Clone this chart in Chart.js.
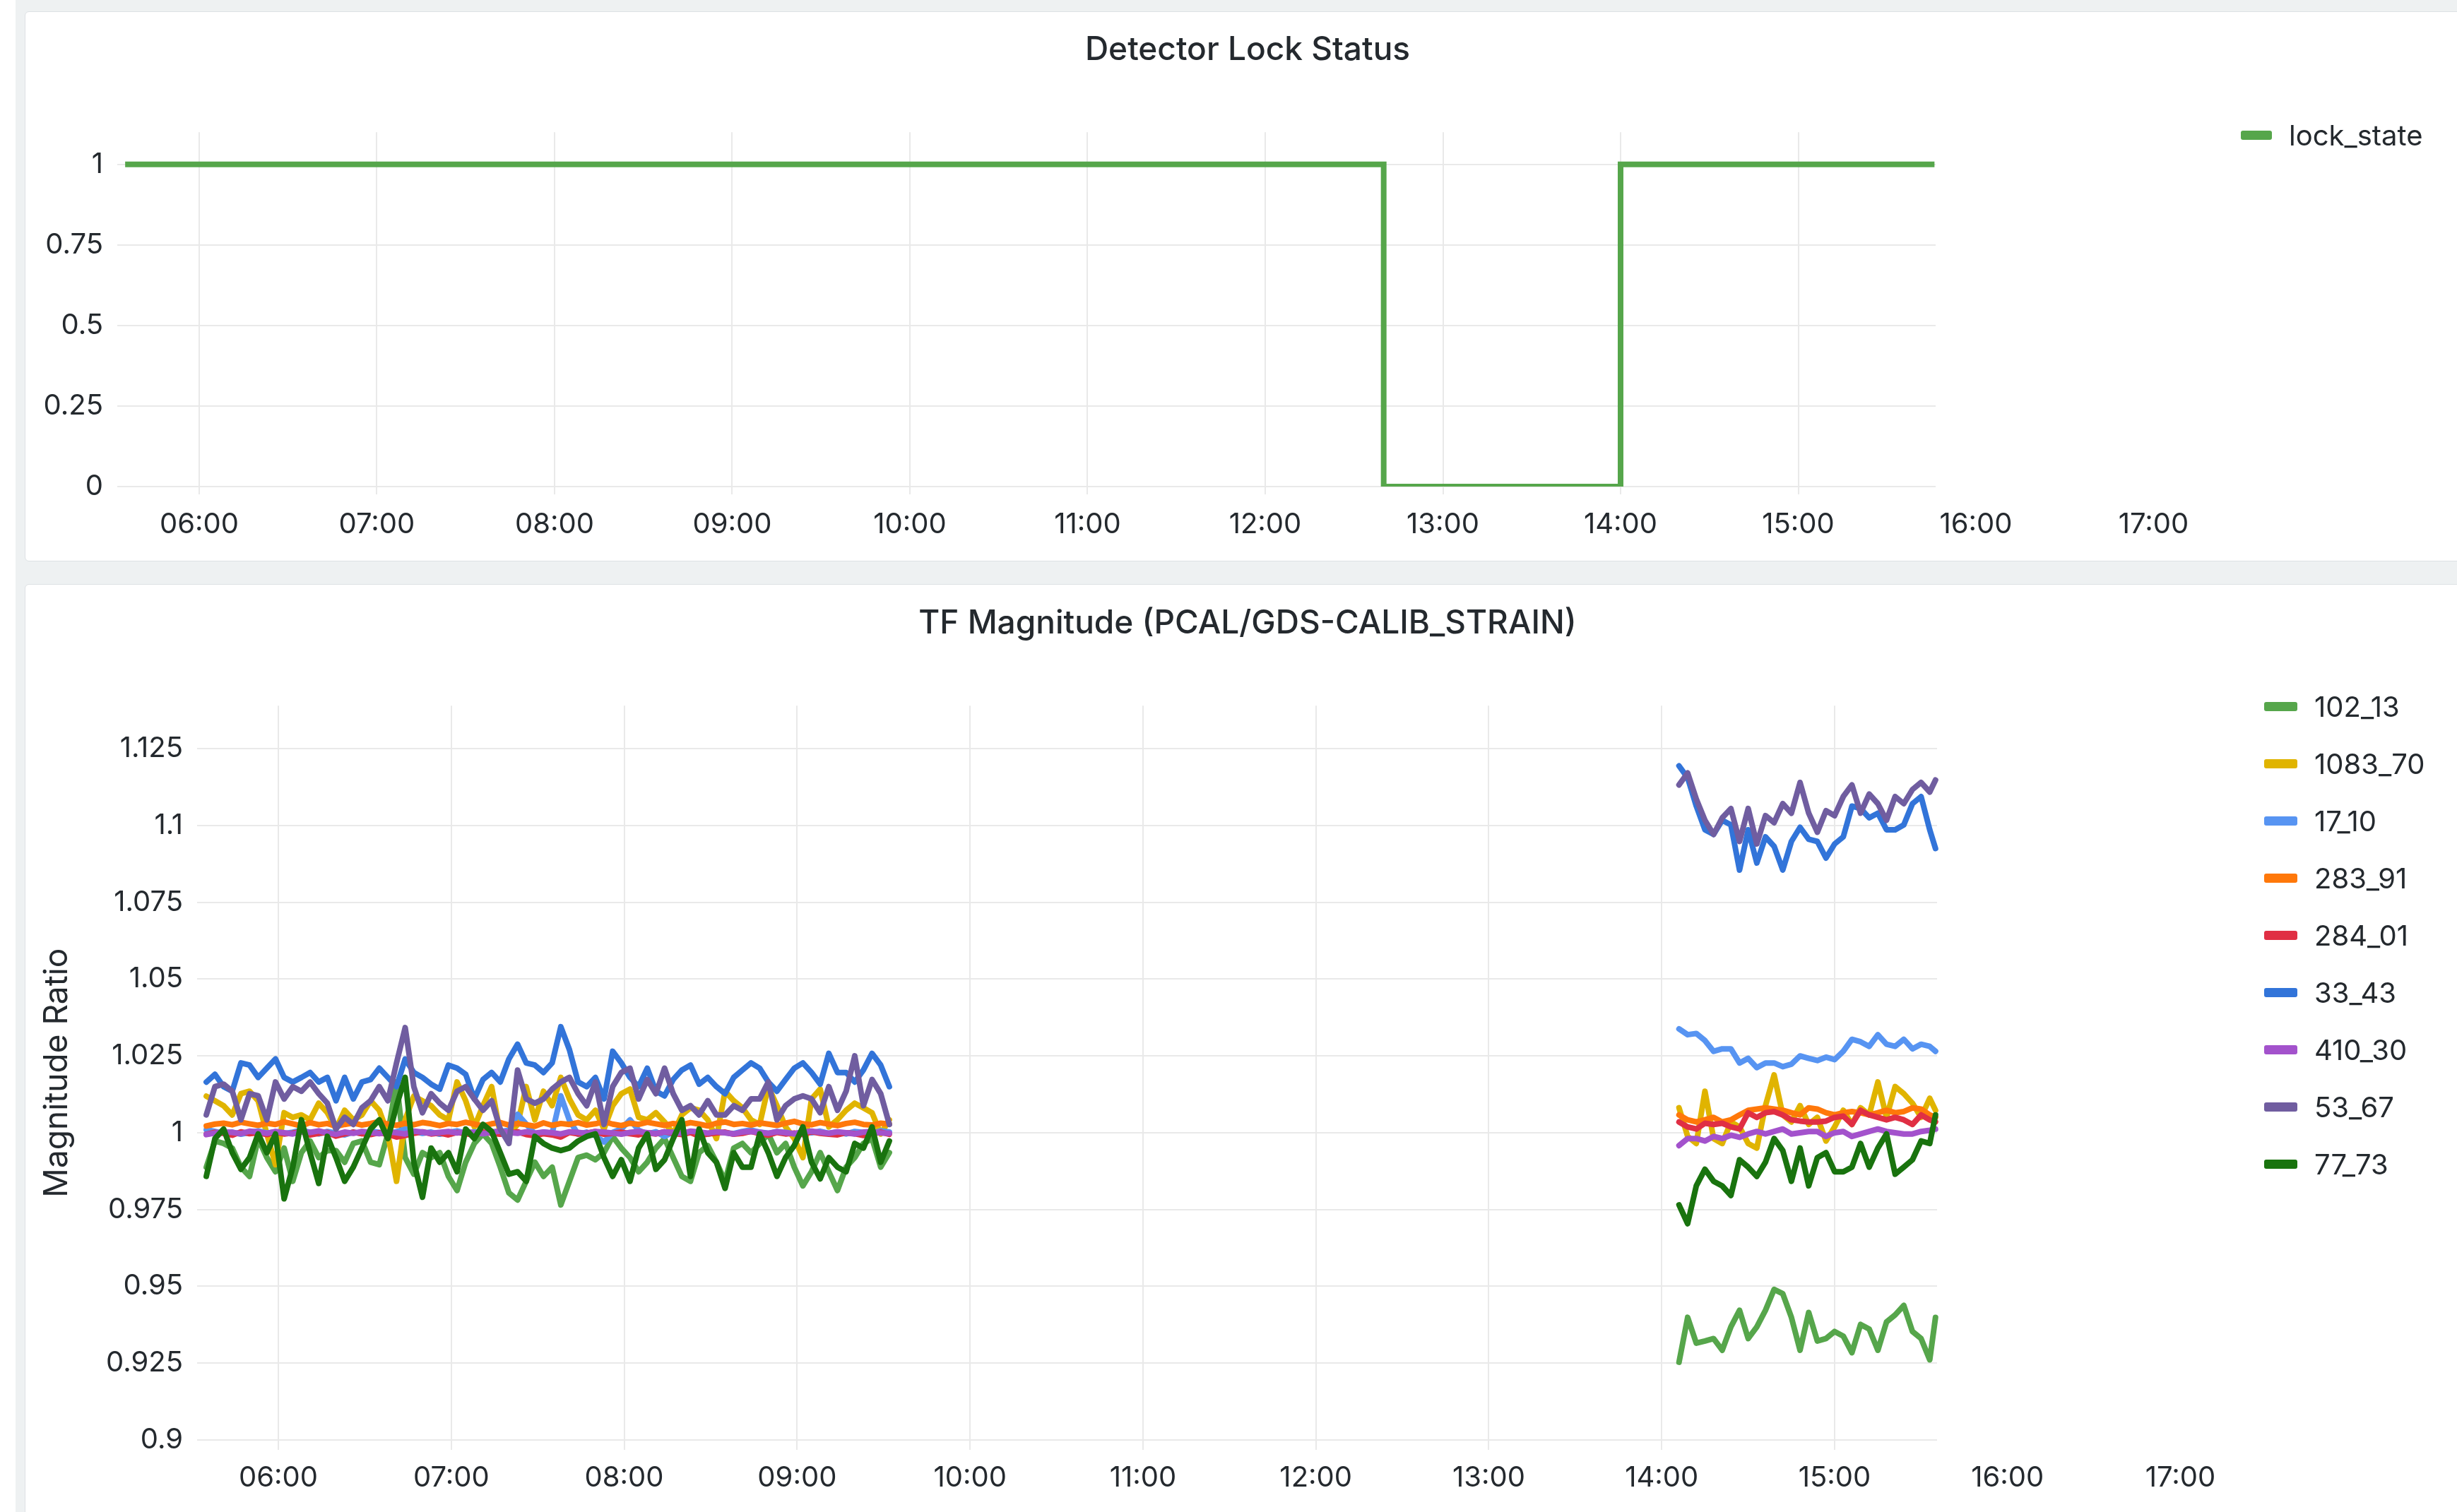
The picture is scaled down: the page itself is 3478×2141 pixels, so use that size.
<!DOCTYPE html>
<html lang="en">
<head>
<meta charset="utf-8">
<title>Detector Lock Status / TF Magnitude</title>
<script src="https://cdn.jsdelivr.net/npm/chart.js@4.4.1/dist/chart.umd.min.js"></script>
<style>
  html, body { margin: 0; padding: 0; background: #fff; overflow: hidden; }
  body { width: 3478px; height: 2141px; position: relative; font-family: Inter, "Noto Sans", sans-serif; }
  #hintergrund { position: absolute; left: 22px; top: 0; width: 3456px; height: 2141px; background: #eef1f2; }
  .panel { position: absolute; left: 35px; width: 3470px; background: #fff; border: 1px solid #dde1e4;
           border-radius: 6px; box-sizing: border-box; }
  #panelOben  { top: 16px;  height: 779px; }
  #panelUnten { top: 827px; height: 1340px; }
  canvas { position: absolute; }
  #lockChart { left: 36px; top: 17px; }
  #tfChart   { left: 36px; top: 828px; }
  .eintrag { position: absolute; display: flex; align-items: center; height: 48px;
             font-size: 40px; color: #24292e; white-space: nowrap; }
  .swatch { height: 13px; border-radius: 3px; margin-right: 24px; }
</style>
</head>
<body>
<div id="hintergrund"></div>
<div class="panel" id="panelOben"></div>
<div class="panel" id="panelUnten"></div>
<canvas id="lockChart" width="3460" height="776"></canvas>
<canvas id="tfChart" width="3460" height="1313"></canvas>
<div id="legendeOben"></div>
<div id="legendeUnten"></div>

<script>
'use strict';

// ------------------------------------------------------------------
// Daten
// ------------------------------------------------------------------

// Lock-Status (Stufenlinie)
const ZEITEN_LOCK = ['05:35', '12:40', '14:00', '15:46'];
const WERTE_LOCK  = [1, 0, 1, 1];

// Zeitpunkte der TF-Messungen: Block 1 (05:35–09:32), Block 2 (14:06–15:35)
const ZEITEN_TF = [
  '05:35','05:38','05:41','05:44','05:47','05:50','05:53','05:56','05:59','06:02',
  '06:05','06:08','06:11','06:14','06:17','06:20','06:23','06:26','06:29','06:32',
  '06:35','06:38','06:41','06:44','06:47','06:50','06:53','06:56','06:59','07:02',
  '07:05','07:08','07:11','07:14','07:17','07:20','07:23','07:26','07:29','07:32',
  '07:35','07:38','07:41','07:44','07:47','07:50','07:53','07:56','07:59','08:02',
  '08:05','08:08','08:11','08:14','08:17','08:20','08:23','08:26','08:29','08:32',
  '08:35','08:38','08:41','08:44','08:47','08:50','08:53','08:56','08:59','09:02',
  '09:05','09:08','09:11','09:14','09:17','09:20','09:23','09:26','09:29','09:32',
  '14:06','14:09','14:12','14:15','14:18','14:21','14:24','14:27','14:30','14:33',
  '14:36','14:39','14:42','14:45','14:48','14:51','14:54','14:57','15:00','15:03',
  '15:06','15:09','15:12','15:15','15:18','15:21','15:24','15:27','15:30','15:33','15:35'
];

const TF_NAMEN  = ['102_13', '1083_70', '17_10', '283_91', '284_01', '33_43', '410_30', '53_67', '77_73'];
const TF_FARBEN = ['#56A64B', '#E0B400', '#5794F2', '#FF780A', '#E02F44', '#3274D9', '#A352CC', '#705DA0', '#19730E'];

const w102_13 = [
  0.9888,0.9973,0.9965,0.995,0.9888,0.9858,0.9981,0.9919,0.9873,0.995,
  0.9842,0.9935,0.9973,0.9919,0.9942,0.9942,0.9904,0.9965,0.9973,0.9904,
  0.9896,0.9996,1.0165,0.9919,0.9865,0.9935,0.9919,0.9935,0.9858,0.9812,
  0.9904,0.9965,0.9996,0.9965,0.9888,0.9804,0.9781,0.9842,0.9904,0.9858,
  0.9888,0.9765,0.9842,0.9919,0.9927,0.9912,0.9935,0.9988,0.995,0.9919,
  0.9873,0.9904,0.995,0.9981,0.9919,0.9858,0.9842,0.9935,0.9958,0.9904,
  0.9842,0.995,0.9965,0.9935,0.9965,0.9996,0.9935,0.9965,0.9888,0.9827,
  0.9873,0.9935,0.9873,0.9812,0.9888,0.9919,0.9965,0.9981,0.9888,0.9935,
  0.9253,0.9399,0.9315,0.9322,0.933,0.9292,0.9368,0.9422,0.933,0.9368,
  0.9422,0.949,0.9476,0.9399,0.9292,0.9415,0.9322,0.933,0.9353,0.9338,
  0.9284,0.9376,0.9361,0.9292,0.9384,0.9407,0.9438,0.9353,0.933,0.9261,0.9399
];
const w1083_70 = [
  1.0119,1.0104,1.0088,1.0058,1.0127,1.0135,1.0104,0.9996,0.9896,1.0065,
  1.005,1.0058,1.0042,1.0096,1.0065,1.0012,1.0073,1.0042,1.0058,1.0104,
  1.0073,0.9996,0.9842,1.0042,1.0119,1.0104,1.0088,1.0058,1.0042,1.0165,
  1.0104,1.0019,1.0088,1.015,0.9996,0.9996,1.0027,1.015,1.0042,1.0135,
  1.0088,1.018,1.011,1.0058,1.0042,1.0073,1.0012,1.0088,1.0127,1.0142,
  1.005,1.0042,1.0065,1.0035,0.9996,1.0058,1.0081,1.0073,1.0042,0.9981,
  1.0135,1.0104,1.0081,1.0042,1.0027,1.015,1.0088,1.0019,0.9981,0.9919,
  1.011,1.0142,1.0019,1.0042,1.0073,1.0096,1.0081,1.0065,0.9996,1.0042,
  1.0081,0.9988,0.9965,1.0135,0.9981,0.9965,1.0035,1.0019,0.9965,0.995,
  1.0088,1.0188,1.0058,1.0035,1.0088,1.0027,1.005,0.9973,1.0019,1.0073,
  1.0027,1.0081,1.0058,1.0165,1.005,1.015,1.0127,1.0096,1.005,1.0112,1.0073
];
const w17_10 = [
  1.0010,1.0004,0.9998,1.0002,0.9995,1.0001,1.0006,0.9999,1.0003,0.9997,
  1.0002,1.0008,1.0001,0.9996,1.0004,0.9999,0.9993,1.0002,0.9997,1.0005,
  1.0001,0.9996,1.0003,1.0012,1.0004,0.9998,1.0002,0.9995,1.0001,1.0006,
  0.9999,1.0003,0.9997,1.0002,1.0004,1.0008,1.0060,1.0028,0.9996,1.0002,
  0.9998,1.0120,1.0040,0.9995,1.0002,0.9990,0.9970,1.0001,1.0012,1.0042,
  1.0008,0.9996,1.0003,0.9988,1.0002,0.9997,1.0004,1.0001,0.9995,1.0003,
  1.0000,0.9997,1.0004,1.0009,1.0002,0.9998,1.0004,1.0001,0.9996,1.0003,
  1.0000,1.0005,0.9998,1.0002,0.9996,1.0004,1.0001,0.9998,1.0006,1.0002,
  1.0338,1.0319,1.0323,1.03,1.0265,1.0273,1.0273,1.0227,1.0242,1.0212,
  1.0227,1.0227,1.0215,1.0223,1.025,1.0242,1.0235,1.0246,1.0238,1.0265,
  1.0304,1.0296,1.0281,1.0319,1.0288,1.0281,1.0304,1.0273,1.0288,1.0281,1.0265
];
const w283_91 = [
  1.0022,1.0028,1.0031,1.0026,1.0034,1.0029,1.0024,1.0031,1.0027,1.0035,
  1.0029,1.0022,1.0033,1.0026,1.0030,1.0021,1.0027,1.0032,1.0025,1.0030,
  1.0036,1.0028,1.0024,1.0031,1.0026,1.0033,1.0029,1.0023,1.0030,1.0027,
  1.0034,1.0028,1.0022,1.0029,1.0033,1.0025,1.0030,1.0026,1.0021,1.0032,
  1.0024,1.0030,1.0027,1.0033,1.0025,1.0029,1.0036,1.0028,1.0023,1.0031,
  1.0027,1.0034,1.0029,1.0024,1.0030,1.0026,1.0033,1.0028,1.0022,1.0031,
  1.0035,1.0027,1.0030,1.0025,1.0032,1.0028,1.0024,1.0031,1.0037,1.0029,
  1.0026,1.0033,1.0028,1.0023,1.0030,1.0034,1.0027,1.0025,1.0031,1.0028,
  1.0058,1.0042,1.0035,1.0042,1.005,1.0035,1.0042,1.0058,1.0073,1.0077,
  1.0081,1.0077,1.0073,1.0065,1.0058,1.0081,1.0077,1.0065,1.0058,1.0065,
  1.0069,1.0065,1.0058,1.0065,1.0073,1.0065,1.0069,1.0081,1.0077,1.0058,1.005
];
const w284_01 = [
  0.9995,1.0001,0.9998,0.9992,1.0003,0.9997,1.0000,0.9994,1.0002,0.9996,
  0.9999,1.0004,0.9993,0.9998,1.0001,0.9989,0.9996,1.0002,0.9997,0.9994,
  1.0000,0.9995,0.9986,0.9991,0.9998,1.0003,0.9996,0.9999,0.9993,1.0001,
  0.9997,0.9992,1.0002,0.9998,0.9995,0.9999,1.0003,0.9994,0.9990,0.9997,
  0.9993,0.9986,1.0001,0.9996,0.9999,1.0004,0.9995,0.9998,1.0002,0.9997,
  0.9993,1.0000,0.9996,1.0003,0.9998,0.9994,1.0001,0.9989,0.9996,0.9999,
  1.0002,0.9995,0.9998,1.0004,0.9997,0.9992,1.0001,0.9996,0.9999,0.9994,
  1.0003,0.9998,0.9995,0.9993,1.0000,0.9997,0.9991,0.9996,1.0002,0.9995,
  1.0035,1.0019,1.0012,1.0031,1.0027,1.0031,1.0019,1.0012,1.0065,1.005,
  1.0065,1.0069,1.0058,1.0042,1.0038,1.0035,1.0035,1.0038,1.005,1.0054,
  1.0027,1.0073,1.0058,1.005,1.0042,1.005,1.0042,1.0027,1.0058,1.0042,1.0035
];
const w33_43 = [
  1.0165,1.019,1.015,1.0135,1.0227,1.022,1.018,1.021,1.024,1.018,
  1.0165,1.018,1.0196,1.0165,1.018,1.0104,1.018,1.011,1.0165,1.0173,
  1.021,1.018,1.015,1.024,1.0196,1.018,1.0158,1.0142,1.022,1.021,
  1.019,1.011,1.0173,1.0196,1.0165,1.024,1.0288,1.0227,1.022,1.0196,
  1.0227,1.0345,1.027,1.0165,1.015,1.018,1.011,1.0265,1.0227,1.018,
  1.015,1.021,1.0135,1.012,1.0173,1.0204,1.022,1.0158,1.018,1.015,
  1.0127,1.018,1.0204,1.0227,1.021,1.0165,1.0135,1.0173,1.021,1.0227,
  1.0196,1.0158,1.0258,1.0196,1.0196,1.0165,1.0204,1.0258,1.022,1.015,
  1.1194,1.1155,1.1063,1.0986,1.0971,1.1017,1.1002,1.0855,1.0986,1.0878,
  1.0963,1.0932,1.0855,1.0948,1.0994,1.0955,1.0948,1.0894,1.094,1.0963,
  1.1063,1.1055,1.1025,1.104,1.0986,1.0986,1.1002,1.1071,1.1094,1.0986,1.0925
];
const w410_30 = [
  0.9994,0.9999,1.0003,1.0001,0.9997,1.0005,1.0002,0.9998,1.0004,1.0000,
  0.9996,1.0003,1.0001,1.0006,0.9999,0.9995,1.0002,0.9998,1.0004,1.0001,
  0.9997,1.0003,1.0000,0.9996,1.0005,1.0002,0.9998,1.0001,1.0004,0.9999,
  1.0003,1.0000,0.9997,1.0002,1.0005,1.0001,0.9998,1.0003,0.9999,1.0002,
  1.0000,0.9996,1.0003,1.0001,0.9998,1.0004,1.0002,0.9999,0.9995,1.0001,
  1.0004,1.0000,0.9997,1.0003,1.0001,0.9998,1.0005,1.0002,0.9999,1.0003,
  1.0000,0.9996,1.0002,1.0004,1.0001,0.9998,1.0003,1.0000,0.9997,1.0002,
  1.0005,1.0001,0.9998,1.0003,1.0000,0.9996,1.0002,1.0004,0.9999,0.9998,
  0.9958,0.9981,0.9981,0.9973,0.9988,0.9981,0.9992,0.9985,0.9996,1.0004,
  0.9996,1.0004,1.0012,0.9996,1.0000,1.0004,1.0004,0.9988,1.0000,1.0004,
  0.9988,0.9996,1.0004,1.0012,1.0004,1.0000,0.9996,0.9996,1.0004,1.0008,1.0012
];
const w53_67 = [
  1.0058,1.015,1.0158,1.0135,1.0042,1.0127,1.012,1.0042,1.0165,1.011,
  1.015,1.0135,1.0165,1.0127,1.0096,1.0012,1.005,1.0027,1.0081,1.0104,
  1.015,1.0104,1.0227,1.0342,1.015,1.0065,1.0127,1.0096,1.0073,1.0135,
  1.015,1.011,1.0073,1.0104,1.0012,0.9965,1.0204,1.011,1.0096,1.011,
  1.0142,1.0165,1.018,1.0127,1.0088,1.0165,1.0027,1.015,1.0196,1.021,
  1.011,1.0173,1.0127,1.021,1.0127,1.0073,1.0088,1.0058,1.0104,1.0058,
  1.0058,1.0088,1.0073,1.011,1.011,1.0165,1.0042,1.0088,1.011,1.012,
  1.011,1.0065,1.015,1.0073,1.0135,1.025,1.0088,1.0173,1.0127,1.0027,
  1.1132,1.1171,1.1086,1.1017,1.0971,1.1025,1.1055,1.0948,1.1055,1.094,
  1.1032,1.1009,1.1071,1.104,1.114,1.104,1.0978,1.1048,1.1032,1.1094,
  1.1132,1.104,1.1102,1.1071,1.1017,1.1094,1.1071,1.1117,1.114,1.1109,1.1148
];
const w77_73 = [
  0.9858,0.9981,1.0012,0.9935,0.9881,0.9919,0.9996,0.9935,0.9996,0.9785,
  0.9888,1.0042,0.9935,0.9835,0.9988,0.9919,0.9842,0.9888,0.995,1.0012,
  1.0042,0.9981,1.0088,1.018,0.9904,0.979,0.995,0.9904,0.9935,0.9873,
  1.0012,0.9981,1.0027,1.0004,0.9935,0.9865,0.9873,0.9842,0.9988,0.9965,
  0.995,0.9942,0.995,0.9973,0.9988,0.9996,0.9919,0.9858,0.9912,0.9842,
  0.995,0.9996,0.9881,0.9912,0.9981,1.0042,0.9858,1.0012,0.9935,0.9904,
  0.9819,0.9935,0.9888,0.9888,0.9996,0.9935,0.9858,0.9919,0.9958,1.0019,
  0.9904,0.985,0.9919,0.9888,0.9873,0.9965,0.995,1.0019,0.9904,0.9973,
  0.9765,0.9704,0.9827,0.9881,0.9842,0.9827,0.9796,0.9912,0.9888,0.9858,
  0.9904,0.9981,0.9942,0.9842,0.995,0.9827,0.9919,0.9935,0.9873,0.9873,
  0.9888,0.9965,0.9888,0.995,0.9996,0.9865,0.9888,0.9912,0.9973,0.9965,1.0058
];
const TF_REIHEN = [w102_13, w1083_70, w17_10, w283_91, w284_01, w33_43, w410_30, w53_67, w77_73];

// Achsenbeschriftungen
const X_TICK_STUNDEN = [6, 7, 8, 9, 10, 11, 12, 13, 14, 15, 16, 17];
const Y_TICKS_LOCK   = [0, 0.25, 0.5, 0.75, 1];
const Y_TICKS_TF     = [0.9, 0.925, 0.95, 0.975, 1, 1.025, 1.05, 1.075, 1.1, 1.125];

// ------------------------------------------------------------------
// Hilfsfunktionen
// ------------------------------------------------------------------

const TEXTFARBE = '#24292e';
const GRIDFARBE = '#e9e9e9';
const SCHRIFT   = 'Inter, "Noto Sans", sans-serif';

// "HH:MM" -> Stunden als Dezimalzahl
function zuStunden(zeit) {
  const [h, m] = zeit.split(':').map(Number);
  return h + m / 60;
}

function stundeLabel(wert) {
  return String(wert).padStart(2, '0') + ':00';
}

function zahlLabel(wert) {
  return String(+wert.toFixed(3));
}

// Plotfläche endet bei einer bestimmten Uhrzeit, die Achsenbeschriftung läuft weiter
const abdeckung = {
  id: 'abdeckung',
  beforeDatasetsDraw(chart, args, opts) {
    const { ctx, chartArea, scales } = chart;
    const x0 = Math.round(scales.x.getPixelForValue(opts.bis)) + 1;
    ctx.save();
    ctx.fillStyle = '#ffffff';
    ctx.fillRect(x0, chartArea.top - 3, chartArea.right - x0 + 6,
                 chartArea.bottom - chartArea.top + opts.tickLaenge + 6);
    ctx.restore();
  }
};

function xAchse(min, max, hoehe, rechtsFrei, tickLaenge, abstand) {
  return {
    type: 'linear',
    min, max,
    border: { display: false },
    grid: { color: GRIDFARBE, lineWidth: 2, tickLength: tickLaenge, drawTicks: true },
    ticks: {
      font: { size: 40 }, color: TEXTFARBE, padding: abstand, maxRotation: 0, autoSkip: false,
      callback: stundeLabel,
    },
    afterBuildTicks(scale) {
      scale.ticks = X_TICK_STUNDEN.map(v => ({ value: v }));
    },
    afterFit(scale) {
      scale.height = hoehe;
      scale.paddingRight = rechtsFrei;
    },
  };
}

function yAchse(min, max, tickWerte, breite, titel) {
  return {
    type: 'linear',
    min, max,
    border: { display: false },
    grid: { color: GRIDFARBE, lineWidth: 2, drawTicks: false },
    ticks: { font: { size: 40 }, color: TEXTFARBE, padding: 20, callback: zahlLabel },
    title: titel ? {
      display: true, text: titel, color: TEXTFARBE,
      font: { size: 46 }, padding: { top: 18, bottom: 0 },
    } : { display: false },
    afterBuildTicks(scale) {
      scale.ticks = tickWerte.map(v => ({ value: v }));
    },
    afterFit(scale) {
      scale.width = breite;
    },
  };
}

function legendeBauen(containerId, namen, farben, links, obenMitte, abstand, swatchBreite) {
  const container = document.getElementById(containerId);
  namen.forEach((name, i) => {
    const eintrag = document.createElement('div');
    eintrag.className = 'eintrag';
    eintrag.style.left = links + 'px';
    eintrag.style.top  = (obenMitte + i * abstand - 24) + 'px';
    const swatch = document.createElement('span');
    swatch.className = 'swatch';
    swatch.style.width = swatchBreite + 'px';
    swatch.style.background = farben[i];
    const text = document.createElement('span');
    text.textContent = name;
    eintrag.appendChild(swatch);
    eintrag.appendChild(text);
    container.appendChild(eintrag);
  });
}

Chart.defaults.font.family = SCHRIFT;
Chart.defaults.color = TEXTFARBE;

// ------------------------------------------------------------------
// Chart 1: Detector Lock Status
// ------------------------------------------------------------------

new Chart(document.getElementById('lockChart'), {
  type: 'line',
  data: {
    datasets: [{
      label: 'lock_state',
      data: ZEITEN_LOCK.map((t, i) => ({ x: zuStunden(t), y: WERTE_LOCK[i] })),
      borderColor: '#56A64B',
      borderWidth: 8,
      stepped: true,
      pointRadius: 0,
      fill: false,
    }],
  },
  options: {
    responsive: false,
    animation: false,
    devicePixelRatio: 1,
    events: [],
    layout: { padding: 0 },
    plugins: {
      legend: { display: false },
      tooltip: { enabled: false },
      title: {
        display: true, text: 'Detector Lock Status', color: TEXTFARBE,
        font: { size: 46, weight: '500' }, padding: { top: 27, bottom: 88 },
      },
      abdeckung: { bis: 15.77, tickLaenge: 11 },
    },
    scales: {
      x: xAchse(5.539, 17.3, 104, 372, 11, 19),
      y: yAchse(0, 1.1, Y_TICKS_LOCK, 130, null),
    },
  },
  plugins: [abdeckung],
});

// ------------------------------------------------------------------
// Chart 2: TF Magnitude
// ------------------------------------------------------------------

new Chart(document.getElementById('tfChart'), {
  type: 'line',
  data: {
    datasets: TF_NAMEN.map((name, i) => ({
      label: name,
      data: ZEITEN_TF.map((t, j) => ({ x: zuStunden(t), y: TF_REIHEN[i][j] })),
      borderColor: TF_FARBEN[i],
      borderWidth: 8,
      borderJoinStyle: 'round',
      borderCapStyle: 'round',
      pointRadius: 0,
      tension: 0,
      spanGaps: 0.5,            // Lücke zwischen den beiden Messblöcken nicht verbinden
      order: TF_NAMEN.length - i, // spätere Reihen liegen oben
      fill: false,
    })),
  },
  options: {
    responsive: false,
    animation: false,
    devicePixelRatio: 1,
    events: [],
    layout: { padding: 0 },
    plugins: {
      legend: { display: false },
      tooltip: { enabled: false },
      title: {
        display: true, text: 'TF Magnitude (PCAL/GDS-CALIB_STRAIN)', color: TEXTFARBE,
        font: { size: 46, weight: '500' }, padding: { top: 28, bottom: 88 },
      },
      abdeckung: { bis: 15.59, tickLaenge: 14 },
    },
    scales: {
      x: xAchse(5.530, 17.3, 102, 336, 14, 16),
      y: yAchse(0.9, 1.139, Y_TICKS_TF, 243, 'Magnitude Ratio'),
    },
  },
  plugins: [abdeckung],
});

// Legenden rechts neben den Plots
legendeBauen('legendeOben', ['lock_state'], ['#56A64B'], 3172, 191, 0, 44);
legendeBauen('legendeUnten', TF_NAMEN, TF_FARBEN, 3205, 1000, 81, 47);
</script>
</body>
</html>
